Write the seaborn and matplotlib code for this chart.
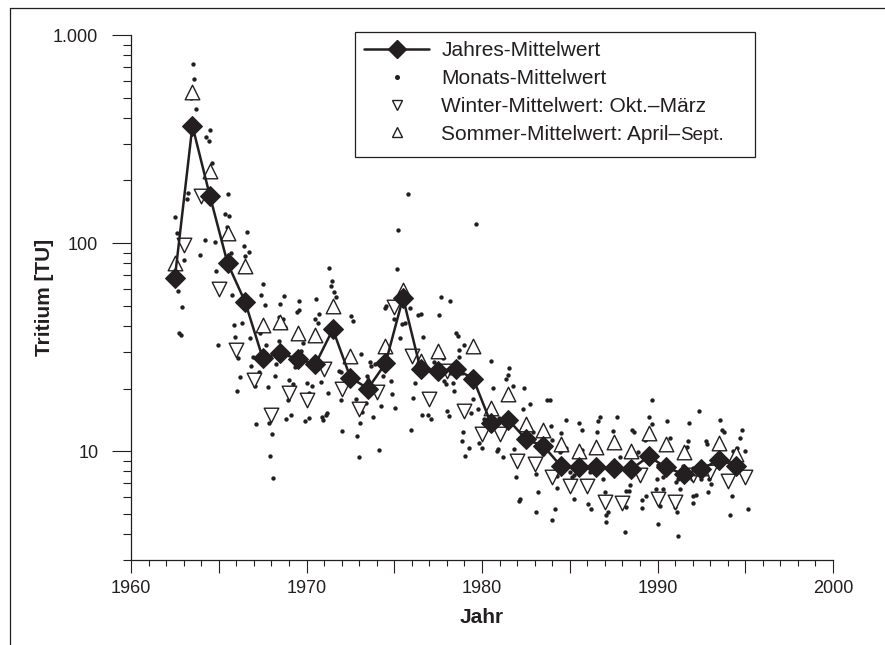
import numpy as np
import pandas as pd
import matplotlib
matplotlib.use("Agg")
import matplotlib.pyplot as plt
import seaborn as sns
from matplotlib.ticker import FixedLocator, FuncFormatter, LogLocator, NullFormatter, MultipleLocator
from matplotlib.lines import Line2D
from matplotlib.patches import Rectangle

# ---------------- data ----------------
jahr_mitte = [1962.5, 1963.5, 1964.5, 1965.5, 1966.5, 1967.5, 1968.5, 1969.5, 1970.5, 1971.5,
              1972.5, 1973.5, 1974.5, 1975.5, 1976.5, 1977.5, 1978.5, 1979.5, 1980.5, 1981.5,
              1982.5, 1983.5, 1984.5, 1985.5, 1986.5, 1987.5, 1988.5, 1989.5, 1990.5, 1991.5,
              1992.5, 1993.5, 1994.5]
jahres_wert = [68.1, 366, 168, 80.2, 52.2, 28.1, 29.5, 27.8, 26.1, 38.5,
               22.6, 20.0, 26.4, 54.6, 24.7, 24.3, 24.9, 22.3, 13.7, 14.2,
               11.4, 10.6, 8.47, 8.35, 8.35, 8.26, 8.2, 9.43, 8.35, 7.76,
               8.2, 9.08, 8.5]

winter_jahr = [1963, 1964, 1965, 1966, 1967, 1968, 1969, 1970, 1971, 1972,
               1973, 1974, 1975, 1976, 1977, 1978, 1979, 1980, 1981, 1982,
               1983, 1984, 1985, 1986, 1987, 1988, 1989, 1990, 1991, 1992,
               1993, 1994, 1995]
winter_wert = [98, 168, 60.3, 30.6, 22.1, 15.0, 19.1, 17.6, 24.9, 20.0,
               16.0, 19.3, 49.4, 28.7, 17.8, 24.3, 15.6, 12.1, 12.1, 8.98,
               8.66, 7.48, 6.82, 6.82, 5.68, 5.62, 7.67, 5.89, 5.71, 7.67,
               7.96, 7.2, 7.48]

sommer_jahr = [1962.5, 1963.5, 1964.5, 1965.5, 1966.5, 1967.5, 1968.5, 1969.5, 1970.5, 1971.5,
               1972.5, 1973.5, 1974.5, 1975.5, 1976.5, 1977.5, 1978.5, 1979.5, 1980.5, 1981.5,
               1982.5, 1983.5, 1984.5, 1985.5, 1986.5, 1987.5, 1988.5, 1989.5, 1990.5, 1991.5,
               1992.5, 1993.5, 1994.5]
sommer_wert = [79.8, 535, 223, 112, 78, 40.6, 41.7, 36.8, 36.0, 49.8,
               28.7, 21.0, 32.0, 59.4, 27.1, 30.3, 25.5, 32.2, 16.2, 18.8,
               13.5, 12.7, 10.8, 10.0, 10.5, 11.1, 9.97, 12.2, 10.8, 9.86,
               8.3, 10.9, 9.67]

monat_jahr = [
    1962.51, 1962.61, 1962.70, 1962.74, 1962.86, 1962.93, 1963.01, 1963.18, 1963.27, 1963.43,
    1963.53, 1963.60, 1963.70, 1963.94, 1964.19, 1964.27, 1964.46, 1964.51, 1964.61, 1964.76,
    1964.84, 1964.95, 1965.37, 1965.47, 1965.53, 1965.60, 1965.70, 1965.75, 1965.89, 1965.94,
    1966.04, 1966.10, 1966.19, 1966.33, 1966.42, 1966.51, 1966.61, 1966.70, 1966.80, 1966.86,
    1966.93, 1967.05, 1967.13, 1967.27, 1967.37, 1967.43, 1967.50, 1967.62, 1967.70, 1967.79,
    1967.89, 1967.94, 1968.04, 1968.10, 1968.19, 1968.27, 1968.42, 1968.46, 1968.51, 1968.65,
    1968.70, 1968.80, 1968.86, 1968.95, 1969.03, 1969.13, 1969.22, 1969.33, 1969.47, 1969.56,
    1969.60, 1969.71, 1969.79, 1969.90, 1970.04, 1970.13, 1970.17, 1970.33, 1970.46, 1970.55,
    1970.65, 1970.70, 1970.80, 1970.90, 1970.95, 1971.09, 1971.18, 1971.22, 1971.27, 1971.37,
    1971.47, 1971.56, 1971.70, 1971.85, 1971.94, 1971.98, 1972.04, 1972.13, 1972.55, 1972.65,
    1972.84, 1972.90, 1972.99, 1973.05, 1973.13, 1973.18, 1973.27, 1973.37, 1973.47, 1973.60,
    1973.66, 1973.81, 1973.89, 1974.13, 1974.23, 1974.36, 1974.47, 1974.55, 1974.80, 1974.90,
    1974.99, 1975.05, 1975.14, 1975.24, 1975.31, 1975.47, 1975.62, 1975.81, 1975.89, 1975.98,
    1976.07, 1976.17, 1976.33, 1976.51, 1976.57, 1976.65, 1976.90, 1977.09, 1977.27, 1977.56,
    1977.66, 1977.75, 1977.85, 1977.94, 1977.98, 1978.10, 1978.17, 1978.33, 1978.42, 1978.51,
    1978.61, 1978.67, 1978.70, 1978.86, 1978.90, 1978.99, 1979.05, 1979.27, 1979.37, 1979.50,
    1979.66, 1979.75, 1979.85, 1980.00, 1980.13, 1980.51, 1980.61, 1980.84, 1980.90, 1980.99,
    1981.22, 1981.37, 1981.47, 1981.56, 1981.79, 1981.85, 1981.94, 1982.10, 1982.17, 1982.33,
    1982.42, 1982.76, 1982.90, 1983.09, 1983.09, 1983.18, 1983.50, 1983.70, 1983.89, 1983.94,
    1984.00, 1984.00, 1984.17, 1984.27, 1984.29, 1984.42, 1984.51, 1984.57, 1984.76, 1984.76,
    1984.99, 1985.14, 1985.27, 1985.27, 1985.53, 1985.71, 1985.71, 1986.04, 1986.13, 1986.23,
    1986.36, 1986.55, 1986.61, 1986.70, 1986.74, 1986.90, 1986.99, 1987.05, 1987.09, 1987.18,
    1987.47, 1987.66, 1987.70, 1987.89, 1987.94, 1988.13, 1988.23, 1988.23, 1988.38, 1988.46,
    1988.57, 1988.65, 1988.80, 1988.90, 1989.09, 1989.14, 1989.27, 1989.37, 1989.37, 1989.53,
    1989.66, 1989.71, 1989.94, 1989.98, 1990.04, 1990.04, 1990.17, 1990.29, 1990.33, 1990.33,
    1990.47, 1990.55, 1990.67, 1990.70, 1990.99, 1991.05, 1991.13, 1991.18, 1991.18, 1991.31,
    1991.47, 1991.66, 1991.71, 1991.79, 1991.94, 1992.00, 1992.00, 1992.04, 1992.19, 1992.38,
    1992.42, 1992.46, 1992.76, 1992.84, 1992.90, 1992.95, 1993.03, 1993.03, 1993.56, 1993.66,
    1993.81, 1993.98, 1994.13, 1994.23, 1994.33, 1994.55, 1994.70, 1994.80, 1994.99, 1995.13]
monat_wert = [
    134, 112, 58.7, 36.8, 36.1, 49.2, 83.3, 163, 174, 499,
    726, 615, 442, 87.4, 103, 322, 311, 350, 243, 101,
    73.4, 32.3, 138.5, 119.6, 173, 134.5, 89.7, 56.6, 40.3, 35.4,
    19.5, 27.9, 22.8, 41.2, 96.5, 87.1, 113.6, 90.5, 35.1, 25.6,
    28.2, 20.6, 13.5, 23.9, 37.1, 56.6, 63.7, 50.2, 32.3, 20.4,
    13.7, 9.49, 12.1, 7.45, 23.0, 26.2, 33.8, 43.9, 50.7, 43.4,
    55.8, 39.7, 14.3, 17.6, 21.9, 14.9, 21.0, 25.3, 46.4, 52.6,
    47.7, 30.3, 33.2, 13.9, 21.2, 19.0, 14.5, 20.6, 43.4, 53.6,
    41.1, 45.5, 21.5, 14.6, 14.1, 15.0, 15.3, 19.0, 75.5, 62.4,
    65.6, 58.4, 54.8, 24.3, 23.9, 17.6, 12.5, 21.0, 44.4, 42.1,
    17.9, 11.8, 9.36, 13.7, 29.2, 15.4, 19.2, 17.1, 23.0, 26.7,
    25.6, 14.6, 26.2, 10.1, 16.5, 23.0, 48.8, 49.7, 21.7, 18.8,
    43.0, 16.1, 75.2, 115, 35.1, 40.7, 41.1, 172, 48.6, 12.6,
    18.0, 21.2, 45.1, 45.5, 14.9, 35.4, 14.9, 14.3, 26.7, 45.0,
    55.0, 27.9, 21.7, 21.0, 15.6, 14.7, 52.9, 21.3, 19.5, 37.1,
    35.8, 30.8, 28.2, 11.2, 12.4, 32.3, 9.43, 10.4, 15.3, 17.8,
    123, 15.9, 11.0, 10.4, 14.3, 27.2, 20.2, 10.0, 10.2, 14.5,
    9.33, 22.3, 23.3, 25.0, 20.6, 10.3, 7.48, 5.78, 5.89, 16.0,
    20.2, 16.9, 12.4, 7.76, 5.13, 6.39, 9.67, 17.6, 17.6, 13.2,
    11.3, 4.69, 5.29, 6.66, 7.61, 9.86, 12.2, 10.1, 10.4, 14.1,
    7.9, 7.55, 7.67, 5.89, 13.6, 12.7, 10.1, 5.57, 7.9, 5.29,
    8.57, 12.4, 13.9, 14.6, 10.0, 7.39, 6.39, 4.58, 4.91, 5.1,
    12.5, 11.0, 14.6, 9.33, 5.89, 4.07, 6.46, 5.38, 6.46, 6.88,
    12.7, 12.3, 9.49, 9.86, 5.33, 5.85, 11.3, 11.5, 6.11, 14.6,
    17.6, 13.5, 6.58, 7.33, 4.49, 8.57, 5.43, 8.05, 7.48, 6.58,
    8.82, 13.9, 10.3, 11.6, 5.38, 7.08, 5.13, 7.39, 3.9, 6.58,
    8.45, 10.5, 11.2, 13.7, 7.39, 8.26, 6.07, 5.63, 6.15, 15.6,
    7.96, 7.39, 11.2, 10.8, 6.39, 7.33, 8.05, 6.95, 14.1, 12.6,
    12.4, 7.48, 4.94, 6.07, 10.0, 10.4, 11.6, 12.7, 10.0, 5.29]

y_ticks = [10, 100, 1000]
x_label_ticks = [1960, 1970, 1980, 1990, 2000]
labels = ["Jahres-Mittelwert", "Monats-Mittelwert",
          "Winter-Mittelwert: Okt.\u2013M\u00e4rz", "Sommer-Mittelwert: April\u2013"]
small_suffix = "Sept."

# ---------------- style ----------------
sns.set_theme(style="ticks")
plt.rcParams['font.family'] = ['Liberation Sans', 'DejaVu Sans']
INK = '#231f20'
plt.rcParams['text.color'] = INK
plt.rcParams['axes.labelcolor'] = INK
plt.rcParams['xtick.color'] = INK
plt.rcParams['ytick.color'] = INK
plt.rcParams['axes.edgecolor'] = INK

fig = plt.figure(figsize=(8.85, 6.45), dpi=100)
W, H = 885, 645
ax = fig.add_axes([131 / W, 1 - 560 / H, 702 / W, 525 / H])

df_m = pd.DataFrame({'Jahr': monat_jahr, 'TU': monat_wert})
df_w = pd.DataFrame({'Jahr': winter_jahr, 'TU': winter_wert})
df_s = pd.DataFrame({'Jahr': sommer_jahr, 'TU': sommer_wert})
df_j = pd.DataFrame({'Jahr': jahr_mitte, 'TU': jahres_wert})

sns.scatterplot(data=df_m, x='Jahr', y='TU', ax=ax, marker='o', s=10,
                color=INK, linewidth=0, zorder=2, legend=False)
sns.scatterplot(data=df_w, x='Jahr', y='TU', ax=ax, marker='v', s=110,
                facecolor='white', edgecolor=INK, linewidth=1.0, zorder=3, legend=False)
sns.scatterplot(data=df_s, x='Jahr', y='TU', ax=ax, marker='^', s=110,
                facecolor='white', edgecolor=INK, linewidth=1.0, zorder=3, legend=False)
sns.lineplot(data=df_j, x='Jahr', y='TU', ax=ax, color=INK, linewidth=1.8,
             marker='D', markersize=10, markeredgecolor=INK, markerfacecolor=INK,
             zorder=4, legend=False)

ax.set_yscale('log')
ax.set_ylim(3, 1000)
ax.set_xlim(1960, 2000)

ax.yaxis.set_major_locator(FixedLocator(y_ticks))
ax.yaxis.set_major_formatter(FuncFormatter(lambda v, p: f"{int(round(v)):,}".replace(',', '.')))
ax.yaxis.set_minor_locator(LogLocator(base=10, subs=(2, 3, 4, 5, 6, 7, 8, 9), numticks=20))
ax.yaxis.set_minor_formatter(NullFormatter())
ax.xaxis.set_major_locator(MultipleLocator(5))
ax.xaxis.set_major_formatter(FuncFormatter(lambda v, p: f"{int(round(v))}" if int(round(v)) in x_label_ticks else ""))
ax.xaxis.set_minor_locator(MultipleLocator(1))

ax.tick_params(axis='y', which='major', direction='out', length=14, width=0.8, pad=9.5, labelsize=13)
ax.tick_params(axis='y', which='minor', direction='out', length=6, width=0.8)
ax.tick_params(axis='x', which='major', direction='out', length=9.5, width=0.8, pad=5, labelsize=13)
ax.tick_params(axis='x', which='minor', direction='out', length=4.5, width=0.8)

for s in ['top', 'right']:
    ax.spines[s].set_visible(False)
for s in ['left', 'bottom']:
    ax.spines[s].set_linewidth(0.9)
ax.grid(False)

ax.set_xlabel('Jahr', fontsize=15, fontweight='bold', labelpad=8)
ax.set_ylabel('Tritium [TU]', fontsize=15, fontweight='bold')
ax.yaxis.set_label_coords((54 - 131) / 702, 0.5)

# ---------------- legend ----------------
handles = [
    Line2D([], [], color=INK, lw=1.8, marker='D', markersize=9, mfc=INK, mec=INK),
    Line2D([], [], ls='none', marker='o', markersize=2.6, color=INK),
    Line2D([], [], ls='none', marker='v', markersize=7, mfc='white', mec=INK, mew=1.0),
    Line2D([], [], ls='none', marker='^', markersize=7, mfc='white', mec=INK, mew=1.0),
]
leg = ax.legend(handles, labels, loc='upper left',
                bbox_to_anchor=(355 / W, 1 - 32 / H), bbox_transform=fig.transFigure,
                borderaxespad=0, frameon=False, fontsize=15, handlelength=3.1,
                handletextpad=0.6, labelspacing=0.42, borderpad=0.45)

# legend frame drawn separately (box 355..755 x 32..157 px)
fig.add_artist(Rectangle((355 / W, 1 - 157 / H), 400 / W, 125 / H, transform=fig.transFigure,
                         fill=False, edgecolor=INK, lw=0.9))

# smaller "Sept." suffix directly after the last legend label
fig.canvas.draw()
renderer = fig.canvas.get_renderer()
t = leg.get_texts()[3]
bb = t.get_window_extent(renderer)
base = t.get_transform().transform((0, 0))
fig.text((bb.x1 - 1) / W, base[1] / H, small_suffix, fontsize=13.5, va='baseline', ha='left')

# outer frame lines (left and top)
fig.add_artist(Line2D([10 / W, 10 / W], [0, 1 - 8 / H], transform=fig.transFigure, color=INK, lw=0.9))
fig.add_artist(Line2D([10 / W, 1], [1 - 8 / H, 1 - 8 / H], transform=fig.transFigure, color=INK, lw=0.9))

fig.savefig('out.png', dpi=100)
